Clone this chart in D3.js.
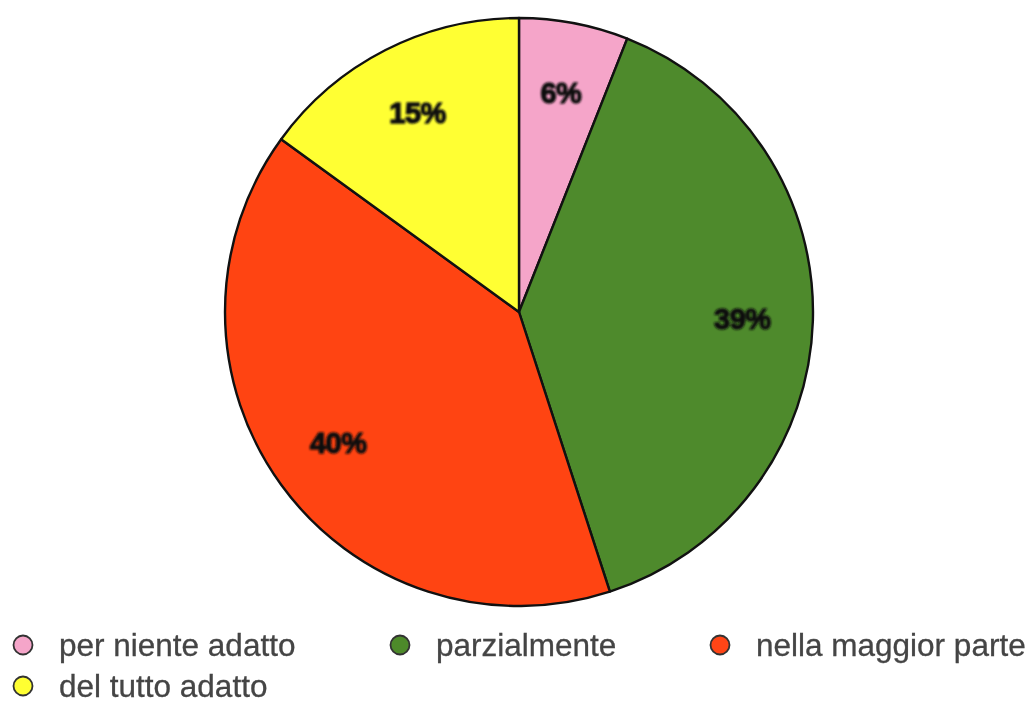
<!DOCTYPE html>
<html><head><meta charset="utf-8">
<script src="https://cdn.jsdelivr.net/npm/d3@7"></script>
<style>body{margin:0;background:#fff}svg{display:block}</style>
</head><body>
<svg id="c" width="1032" height="702"></svg>
<script>
const categories = ["per niente adatto", "parzialmente", "nella maggior parte", "del tutto adatto"];
const values = [6, 39, 40, 15];
const colors = ["#f5a5c9", "#4e8a2c", "#ff4412", "#ffff33"];

const svg = d3.select("#c");
const defs = svg.append("defs");
defs.append("filter").attr("id","soft").append("feGaussianBlur").attr("stdDeviation",0.9);
defs.append("filter").attr("id","softer").append("feGaussianBlur").attr("stdDeviation",0.55);

const cx = 519, cy = 312, r = 294;
const g = svg.append("g").attr("transform", `translate(${cx},${cy})`);
const pie = d3.pie().sort(null).value(d => d)(values);
const arc = d3.arc().innerRadius(0).outerRadius(r);
const labelArc = d3.arc().innerRadius(r*0.76).outerRadius(r*0.76);

g.selectAll("path").data(pie).join("path")
  .attr("d", arc)
  .attr("fill", (d,i) => colors[i])
  .attr("stroke", "#111")
  .attr("stroke-width", 2.4)
  .attr("stroke-linejoin","round");

g.selectAll("text").data(pie).join("text")
  .attr("transform", d => `translate(${labelArc.centroid(d)})`)
  .attr("text-anchor","middle")
  .attr("dominant-baseline","central")
  .attr("font-family","Liberation Sans, Arial, sans-serif")
  .attr("font-weight","bold")
  .attr("font-size", 29)
  .attr("letter-spacing", -0.5)
  .attr("fill","#111")
  .attr("stroke","#111").attr("stroke-width",1.4)
  .attr("filter","url(#soft)")
  .text(d => d.data + "%");

const legendPos = [[23,645],[400,645],[720,645],[23,686]];
const lg = svg.append("g");
categories.forEach((c,i) => {
  const [x,y] = legendPos[i];
  lg.append("circle").attr("cx",x).attr("cy",y).attr("r",9.5)
    .attr("fill",colors[i]).attr("stroke","#333").attr("stroke-width",1.8)
    .attr("filter","url(#softer)");
  lg.append("text").attr("x",x+36).attr("y",y)
    .attr("dominant-baseline","central")
    .attr("font-family","Liberation Sans, Arial, sans-serif")
    .attr("font-size",31.5).attr("fill","#444")
    .attr("stroke","#444").attr("stroke-width",0.3)
    .attr("filter","url(#softer)")
    .text(c);
});
</script>
</body></html>
